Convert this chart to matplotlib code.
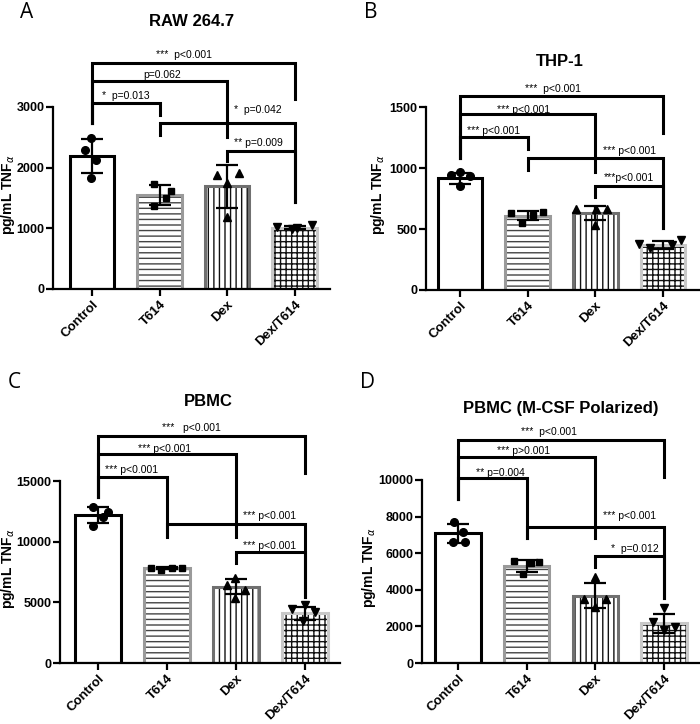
import matplotlib
matplotlib.use("Agg")
import matplotlib.pyplot as plt
import numpy as np

plt.rcParams['font.family'] = ['Liberation Sans', 'DejaVu Sans']
plt.rcParams['hatch.linewidth'] = 1.0
plt.rcParams['mathtext.fontset'] = 'dejavusans'

# ---------------- data ----------------
categories = ['Control', 'T614', 'Dex', 'Dex/T614']

A_title = 'RAW 264.7'
A_means = [2190, 1550, 1690, 1010]
A_sd = [275, 160, 350, 28]
A_points = [[2290, 2490, 2125, 1830], [1725, 1615, 1495, 1365],
            [1880, 1920, 1740, 1180], [1025, 985, 1005, 1055]]
A_ticks = [0, 1000, 2000, 3000]
A_brackets = [(0, 3, 3718, 2730, 3125, '***  p<0.001', 1.36, 3855),
              (0, 2, 3432, 2730, 2499, 'p=0.062', 1.04, 3526),
              (0, 1, 3059, 2730, 2866, '*  p=0.013', 0.50, 3180),
              (1, 3, 2740, 2537, 1438, '*  p=0.042', 2.46, 2949),
              (2, 3, 2273, 2113, 1438, '** p=0.009', 2.46, 2410)]

B_title = 'THP-1'
B_means = [915, 610, 630, 370]
B_sd = [45, 37, 58, 31]
B_points = [[940, 970, 935, 850], [634, 612, 642, 552],
            [664, 664, 664, 533], [377, 342, 369, 410]]
B_ticks = [0, 500, 1000, 1500]
B_brackets = [(0, 3, 1590, 1079, 1290, '***  p<0.001', 1.38, 1645),
              (0, 2, 1440, 1079, 970, '*** p<0.001', 0.94, 1475),
              (0, 1, 1252, 1079, 1153, '*** p<0.001', 0.49, 1306),
              (1, 3, 1085, 987, 505, '*** p<0.001', 2.51, 1139),
              (2, 3, 852, 760, 505, '***p<0.001', 2.50, 920)]

C_title = 'PBMC'
C_means = [12200, 7800, 6290, 4100]
C_sd = [660, 90, 640, 540]
C_points = [[12840, 12470, 12060, 11290], [7860, 7670, 7830, 7860],
            [6430, 6980, 6020, 5380], [4430, 4760, 4230, 3490]]
C_ticks = [0, 5000, 10000, 15000]
C_brackets = [(0, 3, 18714, 13710, 15690, '***   p<0.001', 1.36, 19350),
              (0, 2, 17230, 13710, 10410, '*** p<0.001', 0.97, 17620),
              (0, 1, 15360, 13710, 10410, '*** p<0.001', 0.49, 15910),
              (1, 3, 11430, 10500, 5470, '*** p<0.001', 2.48, 12120),
              (2, 3, 9130, 8220, 5470, '*** p<0.001', 2.48, 9650)]

D_title = 'PBMC (M-CSF Polarized)'
D_means = [7090, 5300, 3680, 2170]
D_sd = [530, 340, 690, 520]
D_points = [[7720, 7160, 6630, 6630], [5590, 5480, 5540, 4860],
            [4720, 3480, 3480, 3040], [2990, 2220, 1980, 1800]]
D_ticks = [0, 2000, 4000, 6000, 8000, 10000]
D_brackets = [(0, 3, 12190, 8960, 10180, '***  p<0.001', 1.32, 12640),
              (0, 2, 11270, 8960, 6810, '*** p>0.001', 0.96, 11590),
              (0, 1, 10090, 8960, 6810, '** p=0.004', 0.61, 10400),
              (1, 3, 7450, 6810, 3540, '*** p<0.001', 2.49, 8050),
              (2, 3, 5860, 5260, 3540, '*  p=0.012', 2.58, 6210)]

# ---------------- layout / style ----------------
W, H = 700, 724
# horizontal scatter of the points (pixels)
A_jit = [[-7, -1, 4, -1], [-6, 11, 6, -6], [-10, 12, 0, 0], [-18, -3, 2, 17]]
B_jit = [[-9, 0, 10, 0], [-17, 5, 15, -6], [-19, 1, 12, 0], [-24, -13, 9, 18]]
C_jit = [[-5, 10, 5, -5], [-16, -6, 5, 15], [-9, -1, 9, -1], [-13, 0, 10, -2]]
D_jit = [[-4, 5, -5, 7], [-13, 4, 12, -4], [0, -11, 11, 0], [0, -11, 11, 0]]

markers = ['o', 's', '^', 'v']
marker_sizes = [5.5, 5.0, 5.8, 5.8]
hatches = [None, '---', '|||', '+++']
hatch_colors = ['white', '#444444', '#111111', '#111111']
edge_colors = ['black', '#9a9a9a', '#707070', '#c8c8c8']

panels = [
    # letter, letter pos, title, title pos, axes px (l, t, r, b), x0 px, spacing px, ylabel right-edge px
    ('A', (20, 13), A_title, (192, 21), (53, 107, 330, 289), 92, 67.5, 17,
     A_means, A_sd, A_points, A_jit, A_ticks, A_brackets),
    ('B', (364, 13), B_title, (560, 62), (426, 107, 699, 290), 460, 67.7, 387,
     B_means, B_sd, B_points, B_jit, B_ticks, B_brackets),
    ('C', (8, 383), C_title, (208, 402), (60, 481, 340, 663), 98, 69.0, 17,
     C_means, C_sd, C_points, C_jit, C_ticks, C_brackets),
    ('D', (360, 382), D_title, (561, 408), (422, 480, 699, 663), 458, 68.7, 378,
     D_means, D_sd, D_points, D_jit, D_ticks, D_brackets),
]

fig = plt.figure(figsize=(W / 100, H / 100), dpi=100)
x = np.arange(len(categories))
bar_w = 0.66

for (letter, lpos, title, tpos, (l, t, r, b), x0, sp, ylx,
     means, sds, pts, jit, ticks, brackets) in panels:
    ax = fig.add_axes([l / W, 1 - b / H, (r - l) / W, (b - t) / H])
    ax.set_xlim((l - x0) / sp, (r - x0) / sp)
    ax.set_ylim(0, ticks[-1])
    for k in range(len(categories)):
        if hatches[k]:
            ax.bar(x[k], means[k], bar_w, color='white', edgecolor=hatch_colors[k],
                   hatch=hatches[k], linewidth=0, zorder=1)
        ax.bar(x[k], means[k], bar_w, fill=False, edgecolor=edge_colors[k],
               linewidth=2.2, zorder=2)
        ax.errorbar(x[k], means[k], yerr=sds[k], fmt='none', ecolor='black',
                    elinewidth=1.6, capsize=8, capthick=1.6, zorder=4)
        xs = x[k] + np.array(jit[k]) / sp
        ax.plot(xs, pts[k], linestyle='none', marker=markers[k], color='black',
                markersize=marker_sizes[k], zorder=5, clip_on=False)
    for (i, j, yt, yl, yr, lab, tx, ty) in brackets:
        ax.plot([i, i, j, j], [yl, yt, yt, yr], color='black', lw=2.2,
                clip_on=False, solid_joinstyle='miter', solid_capstyle='projecting',
                zorder=3)
        ax.text(tx, ty, lab, ha='center', va='center', fontsize=7.5, clip_on=False)
    ax.spines['top'].set_visible(False)
    ax.spines['right'].set_visible(False)
    ax.spines['left'].set_linewidth(1.6)
    ax.spines['bottom'].set_linewidth(1.6)
    ax.set_yticks(ticks)
    ax.set_yticklabels([str(v) for v in ticks], fontsize=9, fontweight='bold')
    ax.set_xticks(x)
    ax.set_xticklabels(categories, rotation=45, ha='right', rotation_mode='anchor',
                       fontsize=9.5, fontweight='bold')
    ax.tick_params(axis='y', direction='out', length=5, width=1.6, pad=1)
    ax.tick_params(axis='x', direction='out', length=5, width=1.6, pad=2)
    ax.set_ylabel(r'pg/mL TNF$_{\alpha}$', fontsize=10, fontweight='bold')
    ax.yaxis.set_label_coords((ylx - l) / (r - l), 0.52)
    fig.text(tpos[0] / W, 1 - tpos[1] / H, title, ha='center', va='center',
             fontsize=12, fontweight='bold')
    fig.text(lpos[0] / W, 1 - lpos[1] / H, letter, ha='left', va='center',
             fontsize=15, family=['Open Sans', 'DejaVu Sans'])

fig.savefig('out.png', dpi=100)
